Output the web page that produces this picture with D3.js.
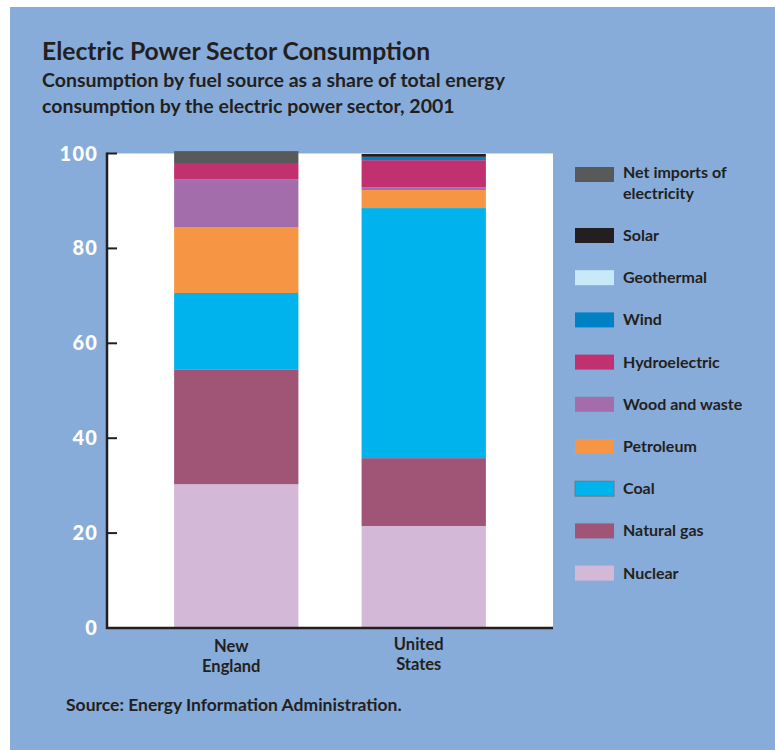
<!DOCTYPE html>
<html>
<head>
<meta charset="utf-8">
<script src="https://cdn.jsdelivr.net/npm/d3@7"></script>
<style>
  html, body { margin: 0; padding: 0; background: #ffffff; }
  svg { display: block; }
  text { font-family: Lato, "Open Sans", sans-serif; }
</style>
</head>
<body>
<svg id="chart" width="775" height="750"></svg>
<script>
// ---- Data ----
const categories = ["New England", "United States"];
const categoryLines = [["New", "England"], ["United", "States"]];
const series = ["Nuclear", "Natural gas", "Coal", "Petroleum", "Wood and waste",
                "Hydroelectric", "Wind", "Geothermal", "Solar", "Net imports of electricity"];
const newEngland   = [30.3, 24.1, 16.2, 13.9, 10.1, 3.2, 0.0, 0.0, 0.0, 2.7];
const unitedStates = [21.5, 14.3, 52.7, 3.8, 0.6, 5.7, 0.7, 0.0, 0.6, 0.0];
const colors = ["#d4b8d7", "#a05577", "#00b3ed", "#f69644", "#a36dac",
                "#c1306f", "#0081c6", "#c8e9f8", "#231f20", "#58595b"];
const yTicks = [0, 20, 40, 60, 80, 100];
const legendLabels = [["Net imports of", "electricity"], ["Solar"], ["Geothermal"], ["Wind"],
                      ["Hydroelectric"], ["Wood and waste"], ["Petroleum"], ["Coal"],
                      ["Natural gas"], ["Nuclear"]];

// ---- Setup ----
const svg = d3.select("#chart");
svg.append("rect").attr("x", 10).attr("y", 7).attr("width", 765).attr("height", 743)
   .attr("fill", "#87acd9");

const plot = { left: 107, right: 553, top: 153.5, bottom: 628 };
svg.append("rect").attr("x", plot.left).attr("y", plot.top)
   .attr("width", plot.right - plot.left).attr("height", plot.bottom - plot.top)
   .attr("fill", "#ffffff");

const x = d3.scaleBand().domain(categories).range([plot.left, plot.right])
            .paddingInner(0.337).paddingOuter(0.358);
const y = d3.scaleLinear().domain([0, 100]).range([plot.bottom, plot.top]);

const rows = categories.map((c, i) => {
  const vals = i === 0 ? newEngland : unitedStates;
  const r = { category: c };
  series.forEach((s, j) => r[s] = vals[j]);
  return r;
});
const stacked = d3.stack().keys(series)(rows);

svg.append("g").selectAll("g").data(stacked).join("g")
  .attr("fill", (d, i) => colors[i])
  .selectAll("rect").data(d => d).join("rect")
  .attr("x", d => x(d.data.category))
  .attr("width", x.bandwidth())
  .attr("y", d => y(d[1]))
  .attr("height", d => y(d[0]) - y(d[1]));

// ---- Axes ----
const axisColor = "#231f20";
svg.append("line").attr("x1", plot.left).attr("x2", plot.left)
   .attr("y1", y(100) - 1).attr("y2", plot.bottom + 1)
   .attr("stroke", axisColor).attr("stroke-width", 2.5);
svg.append("line").attr("x1", plot.left - 1).attr("x2", plot.right)
   .attr("y1", plot.bottom).attr("y2", plot.bottom)
   .attr("stroke", axisColor).attr("stroke-width", 2.5);

const yAxis = svg.append("g");
yAxis.selectAll("line").data(yTicks).join("line")
  .attr("x1", plot.left).attr("x2", plot.left + 10)
  .attr("y1", d => y(d)).attr("y2", d => y(d))
  .attr("stroke", axisColor).attr("stroke-width", 2);
yAxis.selectAll("text").data(yTicks).join("text")
  .attr("x", 98).attr("y", d => y(d))
  .attr("dy", "0.35em")
  .attr("text-anchor", "end")
  .attr("fill", "#ffffff")
  .attr("font-size", 20).attr("font-weight", 900)
  .attr("letter-spacing", 1.2)
  .text(d => d);

// category labels
const xl = svg.append("g");
categories.forEach((c, i) => {
  const cx = x(c) + x.bandwidth() / 2 - 5;
  categoryLines[i].forEach((ln, k) => {
    xl.append("text")
      .attr("x", cx).attr("y", (i === 0 ? 652 : 650) + k * 19.5)
      .attr("text-anchor", "middle")
      .attr("fill", "#231f20").attr("font-size", 16.5).attr("font-weight", 700)
      .text(ln);
  });
});

// ---- Legend ----
const legendY = i => i === 0 ? 167 : 228 + (i - 1) * 42.2;
const lg = svg.append("g");
legendLabels.forEach((lab, i) => {
  const si = series.length - 1 - i;
  const yy = legendY(i);
  lg.append("rect").attr("x", 575).attr("y", yy).attr("width", 39).attr("height", 15)
    .attr("fill", colors[si])
    .attr("stroke", series[si] === "Coal" ? "#6d7b88" : "none")
    .attr("stroke-width", series[si] === "Coal" ? 1 : 0);
  lab.forEach((ln, k) => {
    lg.append("text").attr("x", 623)
      .attr("y", (lab.length > 1 ? yy + 11 : yy + 13) + k * 20.5)
      .attr("fill", "#231f20").attr("font-size", 16).attr("font-weight", 700)
      .text(ln);
  });
});

// ---- Titles ----
svg.append("text").attr("x", 42).attr("y", 60)
  .attr("fill", "#231f20").attr("font-size", 24.7).attr("font-weight", 700)
  .text("Electric Power Sector Consumption");
svg.append("text").attr("x", 42).attr("y", 87)
  .attr("fill", "#231f20").attr("font-size", 19.5).attr("font-weight", 700)
  .text("Consumption by fuel source as a share of total energy");
svg.append("text").attr("x", 42).attr("y", 113)
  .attr("fill", "#231f20").attr("font-size", 19.5).attr("font-weight", 700)
  .text("consumption by the electric power sector, 2001");

svg.append("text").attr("x", 66).attr("y", 711)
  .attr("fill", "#231f20").attr("font-size", 17.5).attr("font-weight", 700)
  .text("Source: Energy Information Administration.");
</script>
</body>
</html>
